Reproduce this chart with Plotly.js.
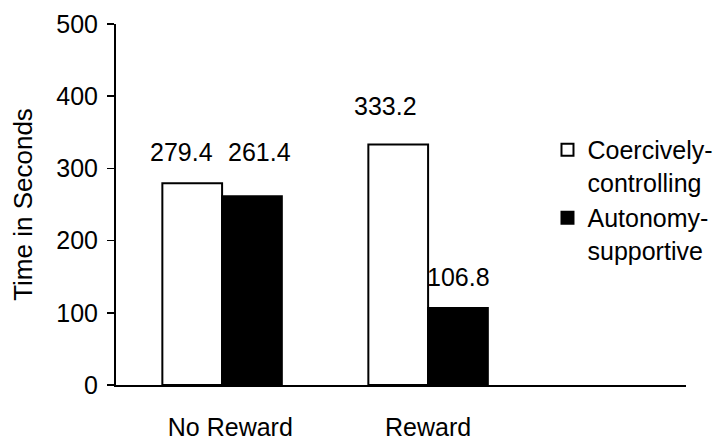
<!DOCTYPE html>
<html>
<head>
<meta charset="utf-8">
<script src="https://cdn.plot.ly/plotly-3.0.1.min.js"></script>
<style>
  html, body { margin: 0; padding: 0; background: #fff; }
  #chart { width: 716px; height: 444px; }
</style>
</head>
<body>
<div id="chart"></div>
<script>
// Persistence time (seconds) by reward condition and teacher style
const conditions = ["No Reward", "Reward"];
const seriesNames = ["Coercively-<br>controlling", "Autonomy-<br>supportive"];
const coercive = [279.4, 333.2];
const autonomy = [261.4, 106.8];
const yTicks = [0, 100, 200, 300, 400, 500];

const FONT = "Liberation Sans, Arial, sans-serif";
const xIdx = conditions.map((_, i) => i);

const traces = [
  {
    type: "bar", name: seriesNames[0], x: xIdx, y: coercive,
    marker: { color: "#ffffff", line: { color: "#000", width: 2 } },
    hoverinfo: "skip"
  },
  {
    type: "bar", name: seriesNames[1], x: xIdx, y: autonomy,
    marker: { color: "#000000", line: { color: "#000", width: 2 } },
    hoverinfo: "skip"
  }
];

// value labels above the bars, nudged the way they sit in the figure
const half = 0.145;
const labelNudge = [
  { dx: -11, dy: 20 }, { dx: 8, dy: 33 },   // No Reward: coercive, autonomy
  { dx: -13, dy: 27 }, { dx: 1, dy: 20 }    // Reward: coercive, autonomy
];
const annotations = [];
conditions.forEach((c, i) => {
  [[coercive[i], -half], [autonomy[i], half]].forEach(([v, off], j) => {
    const n = labelNudge[i * 2 + j];
    annotations.push({
      x: i + off, y: v, xref: "x", yref: "y",
      text: v.toFixed(1), showarrow: false,
      xanchor: "center", yanchor: "bottom",
      xshift: n.dx, yshift: n.dy - 5,
      font: { family: FONT, size: 25, color: "#000" }
    });
  });
});

const layout = {
  width: 716, height: 444,
  margin: { l: 116, r: 30, t: 24, b: 59, autoexpand: false },
  paper_bgcolor: "#fff", plot_bgcolor: "#fff",
  font: { family: FONT, size: 25, color: "#000" },
  barmode: "group", bargap: 0.42, bargroupgap: 0,
  showlegend: true,
  legend: {
    x: 0.757, y: 0.715, xanchor: "left", yanchor: "top",
    valign: "top", tracegroupgap: 7,
    font: { family: FONT, size: 25, color: "#000" },
    bgcolor: "rgba(0,0,0,0)", itemwidth: 30
  },
  xaxis: {
    range: [-0.515, 2.252], tickmode: "array",
    tickvals: [0.04, 1.0], ticktext: conditions,
    showline: true, linecolor: "#000", linewidth: 2,
    ticks: "", showgrid: false, zeroline: false,
    ticklabelstandoff: 19, tickfont: { family: FONT, size: 25 },
    fixedrange: true
  },
  yaxis: {
    range: [0, 500], tickmode: "array", tickvals: yTicks,
    showline: true, linecolor: "#000", linewidth: 2,
    ticks: "outside", ticklen: 7, tickwidth: 1.5, tickcolor: "#000",
    showgrid: false, zeroline: false,
    ticklabelstandoff: 4, tickfont: { family: FONT, size: 25 },
    title: { text: "Time in Seconds", font: { family: FONT, size: 26 }, standoff: 16 },
    fixedrange: true
  },
  annotations: annotations
};

Plotly.newPlot("chart", traces, layout, { displayModeBar: false, staticPlot: true });
</script>
</body>
</html>
